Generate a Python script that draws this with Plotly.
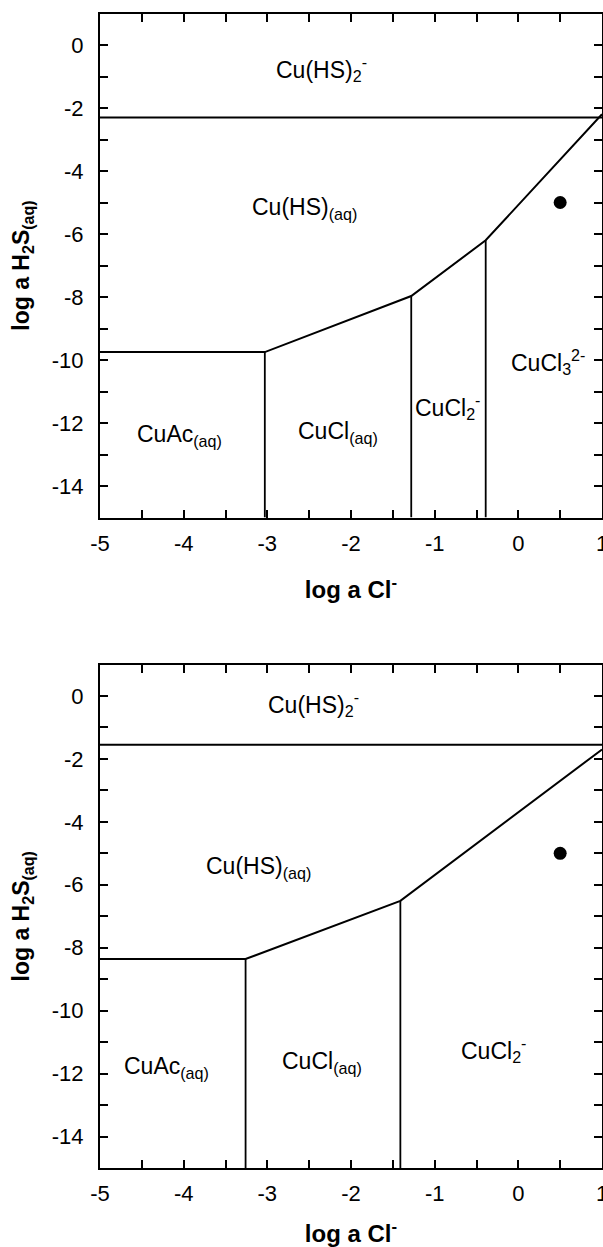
import plotly.graph_objects as go

# ---------------- data ----------------
# Top panel
top_hline_x = [-5.0, 1.0]
top_hline_y = [-2.3, -2.3]
top_bound_x = [-5.0, -3.03, -1.28, -0.39, 1.0]
top_bound_y = [-9.75, -9.75, -7.97, -6.2, -2.2]
top_vert_x = [-3.03, -1.28, -0.39]
top_vert_ytop = [-9.75, -7.97, -6.2]
top_point_x = [0.5]
top_point_y = [-5.0]
top_labels = ["Cu(HS)<sub>2</sub><sup>-</sup>", "Cu(HS)<sub>(aq)</sub>", "CuAc<sub>(aq)</sub>",
              "CuCl<sub>(aq)</sub>", "CuCl<sub>2</sub><sup>-</sup>", "CuCl<sub>3</sub><sup>2-</sup>"]
top_label_x = [-2.35, -2.55, -4.05, -2.15, -0.85, 0.35]
top_label_y = [-0.75, -5.2, -12.4, -12.3, -11.5, -10.05]

# Bottom panel
bot_hline_x = [-5.0, 1.0]
bot_hline_y = [-1.55, -1.55]
bot_bound_x = [-5.0, -3.26, -1.41, 1.0]
bot_bound_y = [-8.36, -8.36, -6.51, -1.7]
bot_vert_x = [-3.26, -1.41]
bot_vert_ytop = [-8.36, -6.51]
bot_point_x = [0.5]
bot_point_y = [-5.0]
bot_labels = ["Cu(HS)<sub>2</sub><sup>-</sup>", "Cu(HS)<sub>(aq)</sub>", "CuAc<sub>(aq)</sub>",
              "CuCl<sub>(aq)</sub>", "CuCl<sub>2</sub><sup>-</sup>"]
bot_label_x = [-2.45, -3.1, -4.2, -2.35, -0.3]
bot_label_y = [-0.25, -5.45, -11.8, -11.65, -11.25]

x_ticks = [-5, -4, -3, -2, -1, 0, 1]
x_ticktext = ["-5", "-4", "-3", "-2", "-1", "0", "1"]
y_ticks = [-14, -12, -10, -8, -6, -4, -2, 0]
y_ticktext = ["-14", "-12", "-10", "-8", "-6", "-4", "-2", "0"]

x_range = [-5, 1]
y_range = [-15, 1]
y_bottom = -15

FONT = "Liberation Sans, Arial, sans-serif"

fig = go.Figure()


def add_panel(fig, xa, ya, hx, hy, bx, by, vx, vtop, px, py, labels, lx, ly):
    fig.add_trace(go.Scatter(x=hx, y=hy, mode="lines", line=dict(color="black", width=2),
                             xaxis=xa, yaxis=ya, showlegend=False, hoverinfo="skip"))
    fig.add_trace(go.Scatter(x=bx, y=by, mode="lines", line=dict(color="black", width=2),
                             xaxis=xa, yaxis=ya, showlegend=False, hoverinfo="skip"))
    for x, yt in zip(vx, vtop):
        fig.add_trace(go.Scatter(x=[x, x], y=[yt, y_bottom], mode="lines",
                                 line=dict(color="black", width=1.8),
                                 xaxis=xa, yaxis=ya, showlegend=False, hoverinfo="skip"))
    fig.add_trace(go.Scatter(x=px, y=py, mode="markers",
                             marker=dict(color="black", size=13),
                             xaxis=xa, yaxis=ya, showlegend=False, hoverinfo="skip"))
    for t, x, y in zip(labels, lx, ly):
        fig.add_annotation(x=x, y=y, xref=xa, yref=ya, text=t, showarrow=False,
                           font=dict(family=FONT, size=23, color="black"))


add_panel(fig, "x", "y", top_hline_x, top_hline_y, top_bound_x, top_bound_y,
          top_vert_x, top_vert_ytop, top_point_x, top_point_y,
          top_labels, top_label_x, top_label_y)
add_panel(fig, "x2", "y2", bot_hline_x, bot_hline_y, bot_bound_x, bot_bound_y,
          bot_vert_x, bot_vert_ytop, bot_point_x, bot_point_y,
          bot_labels, bot_label_x, bot_label_y)

H = 1247.0


def ydom(top_px, bot_px):
    return [1 - bot_px / H, 1 - top_px / H]


xcommon = dict(range=x_range, tickmode="array", tickvals=x_ticks, ticktext=x_ticktext,
               ticks="inside", ticklen=8, tickwidth=2,
               tickcolor="black", showline=True, linewidth=2, linecolor="black", mirror="ticks",
               showgrid=False, zeroline=False,
               minor=dict(dtick=0.5, tick0=-5, ticks="inside", ticklen=8, tickwidth=2,
                          tickcolor="black", showgrid=False),
               tickfont=dict(family=FONT, size=22, color="black"),
               ticklabelstandoff=5, ticklabeloverflow="allow",
               title=dict(text="<b>log a Cl<sup>-</sup></b>",
                          font=dict(family=FONT, size=24, color="black"), standoff=26))
ycommon = dict(range=y_range, tickmode="array", tickvals=y_ticks, ticktext=y_ticktext,
               ticks="inside", ticklen=8, tickwidth=2,
               tickcolor="black", showline=True, linewidth=2, linecolor="black", mirror="ticks",
               showgrid=False, zeroline=False,
               minor=dict(dtick=1, tick0=0, ticks="inside", ticklen=8, tickwidth=2,
                          tickcolor="black", showgrid=False),
               tickfont=dict(family=FONT, size=22, color="black"),
               ticklabelstandoff=10,
               title=dict(text="<b>log a H<sub>2</sub>S<sub>(aq)</sub></b>",
                          font=dict(family=FONT, size=23, color="black"), standoff=16))

fig.update_layout(
    width=603, height=1247,
    margin=dict(l=100, r=1, t=0, b=0),
    paper_bgcolor="white", plot_bgcolor="white",
    showlegend=False,
    xaxis=dict(domain=[0, 1], anchor="y", **xcommon),
    yaxis=dict(domain=ydom(13.5, 517.5), anchor="x", **ycommon),
    xaxis2=dict(domain=[0, 1], anchor="y2", **xcommon),
    yaxis2=dict(domain=ydom(664.5, 1168.0), anchor="x2", **ycommon),
)
fig.update_xaxes(automargin=False)
fig.update_yaxes(automargin=False)

fig.write_html("out.html")
